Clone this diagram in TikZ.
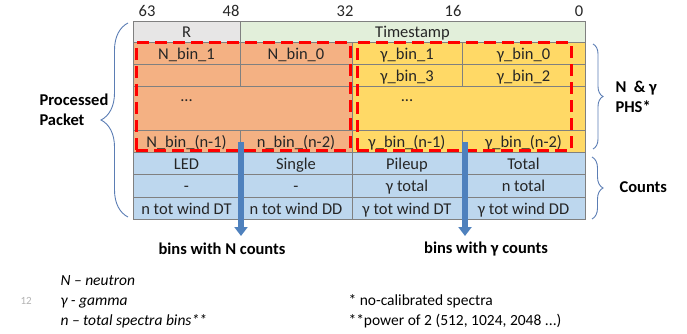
\documentclass[tikz,border=0pt]{standalone}
\usepackage{fontspec}
\setmainfont{Carlito}
\usetikzlibrary{arrows.meta,decorations.pathreplacing}

\definecolor{ink}{RGB}{38,38,38}
\definecolor{gridgray}{RGB}{128,128,128}
\definecolor{rgray}{RGB}{231,230,230}
\definecolor{tsgreen}{RGB}{226,239,218}
\definecolor{phsorange}{RGB}{244,177,131}
\definecolor{phsyellow}{RGB}{255,217,102}
\definecolor{cntblue}{RGB}{189,215,238}
\definecolor{arrowblue}{RGB}{79,129,189}
\definecolor{bracecol}{RGB}{91,125,180}

\tikzset{
	cell/.style={rectangle, draw=gridgray, line width=0.8pt, inner sep=0pt, text=ink, text height=15pt, text depth=2.5pt},
	phsbox/.style={rectangle, draw=red, line width=3pt, dash pattern=on 12pt off 6pt, inner sep=0pt},
	cntarrow/.style={draw=arrowblue, line width=6pt, -{Triangle[width=13pt,length=9pt]}},
	curly/.style={draw=bracecol, line width=0.9pt, decorate},
	boldlabel/.style={font=\bfseries\fontsize{16.5}{20}\selectfont, text=black, align=left},
	note/.style={font=\fontsize{15.5}{18}\selectfont, text=black, anchor=base west}
}

\begin{document}
\begin{tikzpicture}[x=1pt, y=-1pt, font=\fontsize{16.5}{19}\selectfont]
	\useasboundingbox (0,0) rectangle (687,334);

	% bit positions
	\node (b63) at (147,11) [text=ink]	{63};
	\node (b48) at (231,11) [text=ink]	{48};
	\node (b32) at (345,11) [text=ink]	{32};
	\node (b16) at (453,11) [text=ink]	{16};
	\node (b0)  at (579,11) [text=ink]	{0};

	% header word
	\node (R)  at (186.5,31.5) [cell, fill=rgray, minimum width=107pt, minimum height=21pt]	{R};
	\node (TS) at (412.5,31.5) [cell, fill=tsgreen, minimum width=345pt, minimum height=21pt]	{Timestamp};

	% PHS words
	\node (N1) at (186.5,53) [cell, fill=phsorange, minimum width=107pt, minimum height=22pt]	{N\_bin\_1};
	\node (N0) at (296,53)   [cell, fill=phsorange, minimum width=112pt, minimum height=22pt]	{N\_bin\_0};
	\node (G1) at (407,53)   [cell, fill=phsyellow, minimum width=110pt, minimum height=22pt]	{γ\_bin\_1};
	\node (G0) at (523.5,53) [cell, fill=phsyellow, minimum width=123pt, minimum height=22pt]	{γ\_bin\_0};

	\node (N3) at (186.5,75) [cell, fill=phsorange, minimum width=107pt, minimum height=22pt]	{};
	\node (N2) at (296,75)   [cell, fill=phsorange, minimum width=112pt, minimum height=22pt]	{};
	\node (G3) at (407,75)   [cell, fill=phsyellow, minimum width=110pt, minimum height=22pt]	{γ\_bin\_3};
	\node (G2) at (523.5,75) [cell, fill=phsyellow, minimum width=123pt, minimum height=22pt]	{γ\_bin\_2};

	\node (Ndots) at (242.5,108) [cell, fill=phsorange, minimum width=219pt, minimum height=44pt]	{};
	\node (Gdots) at (468.5,108) [cell, fill=phsyellow, minimum width=233pt, minimum height=44pt]	{};
	\node (Ndotstext) at (186.5,101) [text=ink]	{...};
	\node (Gdotstext) at (407,101)   [text=ink]	{...};

	\node (Nn1) at (186.5,141) [cell, fill=phsorange, minimum width=107pt, minimum height=22pt]	{N\_bin\_(n-1)};
	\node (Nn2) at (296,141)   [cell, fill=phsorange, minimum width=112pt, minimum height=22pt]	{n\_bin\_(n-2)};
	\node (Gn1) at (407,141)   [cell, fill=phsyellow, minimum width=110pt, minimum height=22pt]	{γ\_bin\_(n-1)};
	\node (Gn2) at (523.5,141) [cell, fill=phsyellow, minimum width=123pt, minimum height=22pt]	{γ\_bin\_(n-2)};

	% counts words
	\node (LED)    at (186.5,163) [cell, fill=cntblue, minimum width=107pt, minimum height=22pt]	{LED};
	\node (Single) at (296,163)   [cell, fill=cntblue, minimum width=112pt, minimum height=22pt]	{Single};
	\node (Pileup) at (407,163)   [cell, fill=cntblue, minimum width=110pt, minimum height=22pt]	{Pileup};
	\node (Total)  at (523.5,163) [cell, fill=cntblue, minimum width=123pt, minimum height=22pt]	{Total};

	\node (E1)   at (186.5,185.5) [cell, fill=cntblue, minimum width=107pt, minimum height=23pt]	{-};
	\node (E2)   at (296,185.5)   [cell, fill=cntblue, minimum width=112pt, minimum height=23pt]	{-};
	\node (Gtot) at (407,185.5)   [cell, fill=cntblue, minimum width=110pt, minimum height=23pt]	{γ total};
	\node (Ntot) at (523.5,185.5) [cell, fill=cntblue, minimum width=123pt, minimum height=23pt]	{n total};

	\node (NwDT) at (186.5,208) [cell, fill=cntblue, minimum width=107pt, minimum height=22pt]	{n tot wind DT};
	\node (NwDD) at (296,208)   [cell, fill=cntblue, minimum width=112pt, minimum height=22pt]	{n tot wind DD};
	\node (GwDT) at (407,208)   [cell, fill=cntblue, minimum width=110pt, minimum height=22pt]	{γ tot wind DT};
	\node (GwDD) at (523.5,208) [cell, fill=cntblue, minimum width=123pt, minimum height=22pt]	{γ tot wind DD};

	% spectra frames
	\node (Nphs) at (243,96.5) [phsbox, minimum width=214pt, minimum height=107pt]	{};
	\node (Gphs) at (464,96.5) [phsbox, minimum width=214pt, minimum height=107pt]	{};

	% arrows to the bins
	\coordinate (Ntail) at (241,142);
	\coordinate (Nhead) at (241,236);
	\coordinate (Gtail) at (465,142);
	\coordinate (Ghead) at (465,236);
	\draw [cntarrow] (Ntail) -- (Nhead);
	\draw [cntarrow] (Gtail) -- (Ghead);
	\node (Nlabel) at (222,249) [boldlabel]	{bins with N counts};
	\node (Glabel) at (486,249) [boldlabel]	{bins with γ counts};

	% braces
	\draw [curly, decoration={brace, amplitude=27pt}] (128,217) -- (128,23);
	\draw [curly, decoration={brace, amplitude=10pt}] (593,44) -- (593,149);
	\draw [curly, decoration={brace, amplitude=11pt}] (592,157) -- (592,219);
	\node (packet) at (36,110) [boldlabel, anchor=west]	{Processed\\Packet};
	\node (phs)    at (612,97) [boldlabel, anchor=west]	{N\ \ \& γ\\PHS*};
	\node (counts) at (616,187) [boldlabel, anchor=west]	{Counts};

	% legend
	\node (pageno) at (17,304) [font=\fontsize{11}{12}\selectfont, text=gray!60, anchor=base west]	{12};
	\node (legN) at (57,285) [note]	{\itshape N – neutron};
	\node (legG) at (57,305) [note]	{\itshape γ - gamma};
	\node (legn) at (57,325) [note]	{\itshape n – total spectra bins**};
	\node (star1) at (345,305) [note]	{* no-calibrated spectra};
	\node (star2) at (345,325) [note]	{**power of 2 (512, 1024, 2048 ...)};
\end{tikzpicture}
\end{document}
